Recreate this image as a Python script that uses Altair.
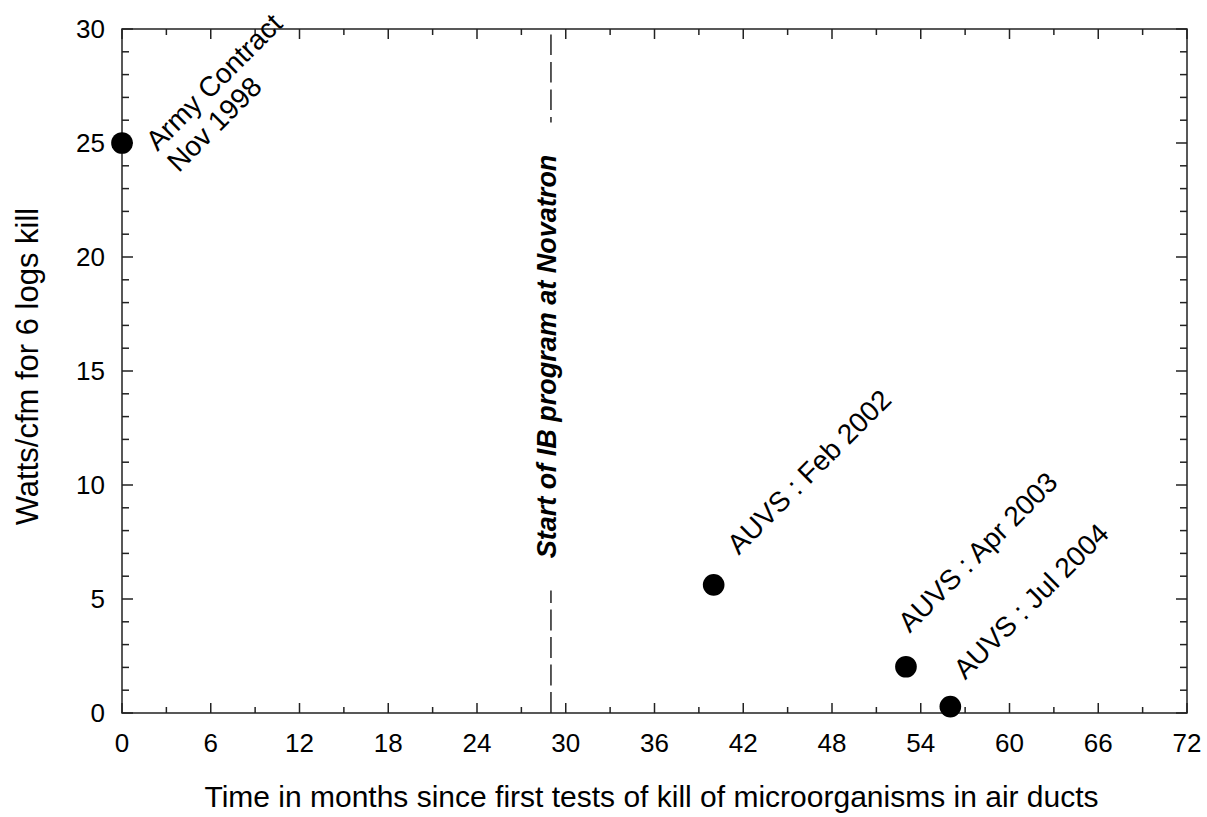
import altair as alt
import pandas as pd

# ---- data ----
months = [0, 40, 53, 56]
watts = [25.0, 5.62, 2.03, 0.28]

label_text = ["Army Contract\nNov 1998", "AUVS : Feb 2002", "AUVS : Apr 2003", "AUVS : Jul 2004"]
label_x = [2.4, 41.7, 53.25, 57.0]
label_y = [24.6, 6.9, 3.48, 1.42]

ib_month = 29
ib_text = "Start of IB program at Novatron"
ib_text_y = 15.64
ib_upper = [30.0, 25.9]
ib_lower = [0.0, 5.37]

x_major = [0, 6, 12, 18, 24, 30, 36, 42, 48, 54, 60, 66, 72]
x_minor = [3, 9, 15, 21, 27, 33, 39, 45, 51, 57, 63, 69]
y_major = [0, 5, 10, 15, 20, 25, 30]
y_minor = [1, 2, 3, 4, 6, 7, 8, 9, 11, 12, 13, 14, 16, 17, 18, 19,
           21, 22, 23, 24, 26, 27, 28, 29]
x_tick_labels = [str(v) for v in x_major]
y_tick_labels = [str(v) for v in y_major]

x_title = "Time in months since first tests of kill of microorganisms in air ducts"
y_title = "Watts/cfm for 6 logs kill"

W, H = 1065, 684
FONT = "Liberation Sans"
INK = "#222222"
TICK_FS = 26

xs = alt.Scale(domain=[0, 72], nice=False, zero=False)
ys = alt.Scale(domain=[0, 30], nice=False, zero=False)

x_axis = alt.Axis(
    values=x_major, title=x_title, labels=False,
    titleBaseline="alphabetic", titleY=93, titleX=529, titleAlign="center",
    titleFontSize=30)
y_axis = alt.Axis(
    values=y_major, title=y_title, labels=False,
    titleBaseline="alphabetic", titleAngle=270, titleX=-85, titleY=337,
    titleAlign="center", titleFontSize=31)

pts = pd.DataFrame({"m": months, "w": watts})
labs = pd.DataFrame({"m": label_x, "w": label_y, "t": label_text})
ib = pd.DataFrame({"m": [ib_month], "w": [ib_text_y], "t": [ib_text]})
seg_up = pd.DataFrame({"m": [ib_month], "w": [ib_upper[0]], "w2": [ib_upper[1]]})
seg_lo = pd.DataFrame({"m": [ib_month], "w": [ib_lower[0]], "w2": [ib_lower[1]]})
xM = pd.DataFrame({"m": x_major, "t": x_tick_labels})
xm = pd.DataFrame({"m": x_minor})
yM = pd.DataFrame({"w": y_major, "t": y_tick_labels})
ym = pd.DataFrame({"w": y_minor})


def xq(f="m"):
    return alt.X(f + ":Q", scale=xs, axis=x_axis)


def yq(f="w"):
    return alt.Y(f + ":Q", scale=ys, axis=y_axis)


points = alt.Chart(pts).mark_circle(size=470, color="black", opacity=1).encode(
    x=xq(), y=yq())

labels = alt.Chart(labs).mark_text(
    angle=315, align="left", baseline="alphabetic", fontSize=28, font=FONT,
    color="black", lineBreak="\n", lineHeight=30).encode(x=xq(), y=yq(), text="t:N")

ib_label = alt.Chart(ib).mark_text(
    angle=270, align="center", baseline="alphabetic", fontSize=27, font=FONT,
    fontStyle="italic", fontWeight="bold", color="black", dy=5).encode(
    x=xq(), y=yq(), text="t:N")

dash_up = alt.Chart(seg_up).mark_rule(color=INK, strokeWidth=1.5, strokeDash=[20.5, 7],
                                      strokeDashOffset=22).encode(
    x=xq(), y=yq(), y2="w2:Q")
dash_lo = alt.Chart(seg_lo).mark_rule(color=INK, strokeWidth=1.5, strokeDash=[21, 6.5]).encode(
    x=xq(), y=yq(), y2="w2:Q")

x_labels = alt.Chart(xM).mark_text(
    align="center", baseline="alphabetic", fontSize=TICK_FS, font=FONT, color="black"
).encode(x=xq(), y=alt.value(H + 39), text="t:N")

y_labels = alt.Chart(yM).mark_text(
    align="right", baseline="middle", fontSize=TICK_FS, font=FONT, color="black", dy=1
).encode(y=yq(), x=alt.value(-17), text="t:N")


def tick_layers():
    out = []
    for df, ln in ((xM, 10), (xm, 6)):
        out.append(alt.Chart(df).mark_rule(color=INK, strokeWidth=1.5).encode(
            x=xq(), y=alt.value(H), y2=alt.value(H - ln)))
        out.append(alt.Chart(df).mark_rule(color=INK, strokeWidth=1.5).encode(
            x=xq(), y=alt.value(0), y2=alt.value(ln)))
    for df, ln in ((yM, 11), (ym, 7)):
        out.append(alt.Chart(df).mark_rule(color=INK, strokeWidth=1.5).encode(
            y=yq(), x=alt.value(0), x2=alt.value(ln)))
        out.append(alt.Chart(df).mark_rule(color=INK, strokeWidth=1.5).encode(
            y=yq(), x=alt.value(W), x2=alt.value(W - ln)))
    return out


chart = alt.layer(
    *tick_layers(), dash_up, dash_lo, x_labels, y_labels, ib_label, labels, points
).properties(
    width=W, height=H,
    autosize=alt.AutoSizeParams(type="none"),
    padding={"left": 122, "top": 29, "right": 20, "bottom": 104},
    background="white",
).configure(
    font=FONT
).configure_axis(
    ticks=False, tickSize=0, domain=False, grid=False,
    titleFont=FONT, titleFontWeight="normal", titleColor="black",
).configure_view(
    stroke=INK, strokeWidth=1.5
)

chart.save("out.html", embed_options={"renderer": "svg", "actions": False})
